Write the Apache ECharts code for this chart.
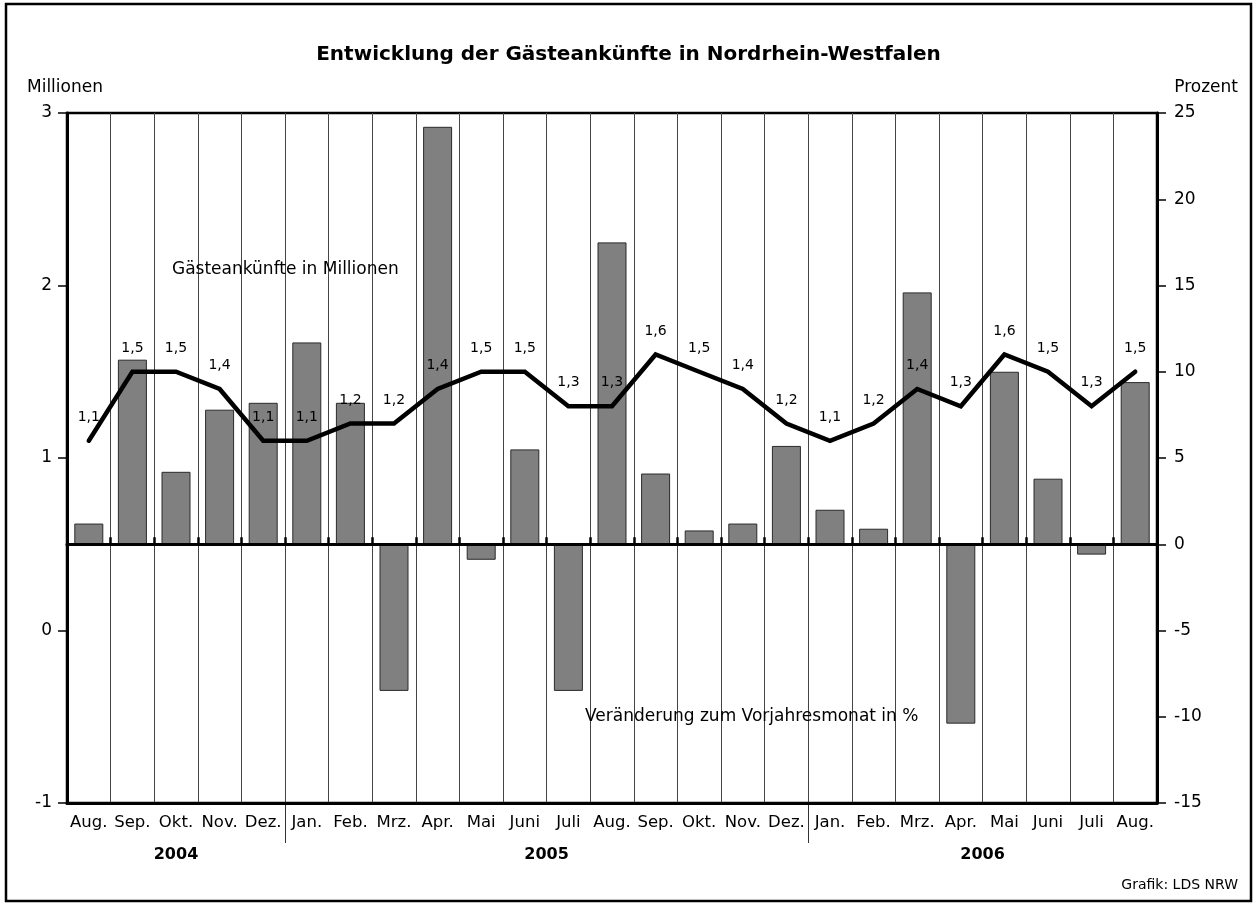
<!DOCTYPE html>
<html>
<head>
<meta charset="utf-8">
<script src="https://cdn.jsdelivr.net/npm/echarts@6/dist/echarts.min.js"></script>
<style>
html,body{margin:0;padding:0;background:#fff;}
#c{width:1257px;height:904px;}
</style>
</head>
<body>
<div id="c"></div>
<script>
// ---- data ----
var months = ['Aug.','Sep.','Okt.','Nov.','Dez.','Jan.','Feb.','Mrz.','Apr.','Mai','Juni','Juli','Aug.','Sep.','Okt.','Nov.','Dez.','Jan.','Feb.','Mrz.','Apr.','Mai','Juni','Juli','Aug.'];
var years = ['2004','2005','2006'];
var yearStartIndex = [0, 5, 17];
var yearCounts = [5, 12, 8];
var arrivals = [1.1,1.5,1.5,1.4,1.1,1.1,1.2,1.2,1.4,1.5,1.5,1.3,1.3,1.6,1.5,1.4,1.2,1.1,1.2,1.4,1.3,1.6,1.5,1.3,1.5];
var changePct = [1.2,10.7,4.2,7.8,8.2,11.7,8.2,-8.5,24.2,-0.9,5.5,-8.5,17.5,4.1,0.8,1.2,5.7,2.0,0.9,14.6,-10.4,10.0,3.8,-0.6,9.4];
var leftTicks = {min:-1, max:3, interval:1};
var rightTicks = {min:-15, max:25, interval:5};

var FONT = 'DejaVu Sans';
var chart = echarts.init(document.getElementById('c'), null, {renderer:'canvas'});

var G = {left:67, right:100, top:113, bottom:101};

var option = {
  backgroundColor:'#fff',
  animation:false,
  textStyle:{fontFamily:FONT},
  title:{
    text:'Entwicklung der Gästeankünfte in Nordrhein-Westfalen',
    left:'center', top:40,
    textStyle:{fontFamily:FONT, fontWeight:'bold', fontSize:20, color:'#000'}
  },
  grid:{left:G.left, right:G.right, top:G.top, bottom:G.bottom, show:true, borderColor:'#000', borderWidth:2.5, backgroundColor:'transparent', outerBoundsMode:'none'},
  xAxis:[{
    type:'category', data:months, position:'bottom', boundaryGap:true,
    axisLine:{onZero:false, lineStyle:{color:'#000', width:3}},
    axisTick:{show:false},
    axisLabel:{interval:0, margin:11, fontSize:16.5, color:'#000', fontFamily:FONT, hideOverlap:false},
    splitLine:{show:true, interval:0, lineStyle:{color:'#444', width:1}}
  },{
    type:'category', data:months, position:'bottom', boundaryGap:true, z:5,
    axisLine:{onZero:true, onZeroAxisIndex:1, lineStyle:{color:'#000', width:3}},
    axisTick:{show:true, inside:true, length:7, interval:0, lineStyle:{color:'#000', width:2.5}},
    axisLabel:{show:false},
    splitLine:{show:false}
  }],
  yAxis:[{
    type:'value', position:'left', min:leftTicks.min, max:leftTicks.max, interval:leftTicks.interval,
    axisLine:{show:true, lineStyle:{color:'#000', width:3}},
    axisTick:{show:true, length:9, lineStyle:{color:'#000', width:1.5}},
    axisLabel:{fontSize:17, color:'#000', margin:15, fontFamily:FONT},
    splitLine:{show:false}
  },{
    type:'value', position:'right', min:rightTicks.min, max:rightTicks.max, interval:rightTicks.interval,
    axisLine:{show:true, lineStyle:{color:'#000', width:3}},
    axisTick:{show:true, length:9, lineStyle:{color:'#000', width:1.5}},
    axisLabel:{fontSize:17, color:'#000', margin:17, fontFamily:FONT},
    splitLine:{show:false}
  }],
  series:[{
    type:'bar', name:'Veränderung', xAxisIndex:0, yAxisIndex:1, data:changePct,
    barWidth:29, z:2,
    itemStyle:{color:'#808080', borderColor:'#2a2a2a', borderWidth:1}
  },{
    type:'line', name:'Gästeankünfte', xAxisIndex:0, yAxisIndex:0, data:arrivals,
    symbol:'circle', symbolSize:1, showSymbol:true, z:6,
    itemStyle:{color:'rgba(0,0,0,0)', borderWidth:0},
    lineStyle:{color:'#000', width:4.5, join:'miter', cap:'round'},
    label:{show:true, position:'top', distance:16, fontSize:14, color:'#000', fontFamily:FONT,
      formatter:function(p){return Number(p.value).toFixed(1).replace('.', ',');}},
    labelLayout:{hideOverlap:false}
  }]
};
chart.setOption(option);

// year labels and separators from category positions
var gfx = [];
var yBottom = 904 - G.bottom;
function px(i){ return chart.convertToPixel({xAxisIndex:0}, i); }
var step = px(1) - px(0);
for (var k=0;k<years.length;k++){
  var a = px(yearStartIndex[k]) - step/2;
  var b = px(yearStartIndex[k] + yearCounts[k] - 1) + step/2;
  gfx.push({type:'text', x:(a+b)/2, y:855, style:{text:years[k], fontFamily:FONT, fontWeight:'bold', fontSize:16, fill:'#000', align:'center', verticalAlign:'middle'}});
  if (k>0){
    gfx.push({type:'line', shape:{x1:Math.round(a)+0.5, y1:yBottom, x2:Math.round(a)+0.5, y2:843}, style:{stroke:'#333', lineWidth:1}});
  }
}
gfx.push({type:'text', x:27, y:88, style:{text:'Millionen', fontFamily:FONT, fontSize:17, fill:'#000', align:'left', verticalAlign:'middle'}});
gfx.push({type:'text', x:1238, y:88, style:{text:'Prozent', fontFamily:FONT, fontSize:17, fill:'#000', align:'right', verticalAlign:'middle'}});
gfx.push({type:'text', x:172, y:270, style:{text:'Gästeankünfte in Millionen', fontFamily:FONT, fontSize:17, fill:'#000', align:'left', verticalAlign:'middle'}, z:10});
gfx.push({type:'text', x:585, y:717, style:{text:'Veränderung zum Vorjahresmonat in %', fontFamily:FONT, fontSize:17, fill:'#000', align:'left', verticalAlign:'middle'}, z:10});
gfx.push({type:'text', x:1238, y:885, style:{text:'Grafik: LDS NRW', fontFamily:FONT, fontSize:14, fill:'#000', align:'right', verticalAlign:'middle'}});
gfx.push({type:'rect', shape:{x:6, y:4, width:1245, height:897}, style:{fill:'none', stroke:'#000', lineWidth:2.5}, z:-1});
chart.setOption({graphic:gfx});
</script>
</body>
</html>
